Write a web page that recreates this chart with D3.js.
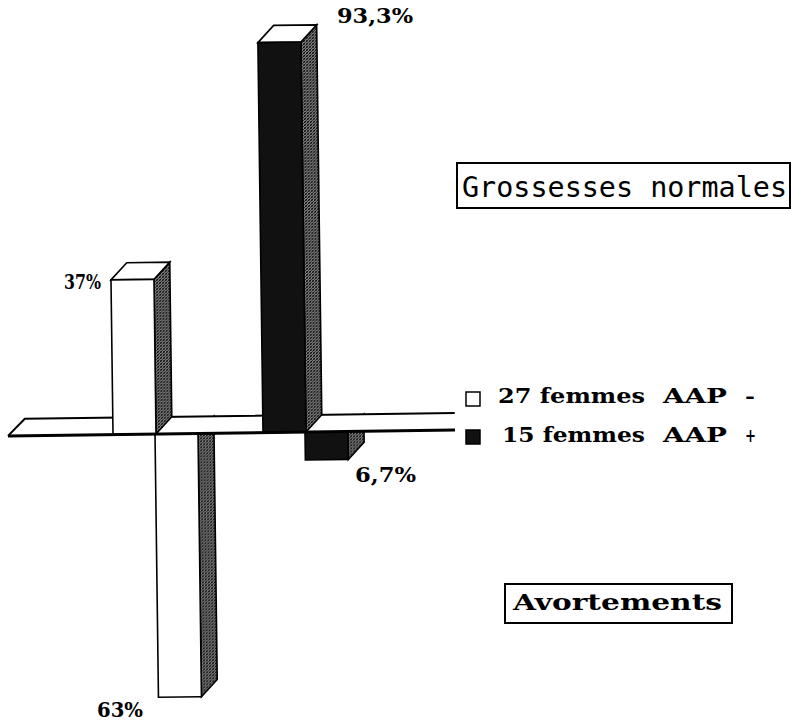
<!DOCTYPE html>
<html><head><meta charset="utf-8">
<script src="https://cdn.jsdelivr.net/npm/d3@7"></script>
<style>html,body{margin:0;padding:0;background:#fff;} svg{display:block}</style>
</head><body>
<script>
// ---- data ----
const series = ["27 femmes AAP -", "15 femmes AAP +"];
const legendParts = [["27 femmes", "AAP", "-"], ["15 femmes", "AAP", "+"]];
const outcomes = ["Grossesses normales", "Avortements"];
const normalValues = [37, 93.3];
const abortionValues = [63, 6.7];
const normalLabels = ["37%", "93,3%"];
const abortionLabels = ["63%", "6,7%"];
const seriesFill = ["#ffffff", "#111111"];

// ---- layout ----
const W = 791, H = 723;
const svg = d3.select("body").append("svg").attr("width", W).attr("height", H);
const defs = svg.append("defs");
const pat = defs.append("pattern").attr("id", "hatch").attr("patternUnits", "userSpaceOnUse")
  .attr("width", 3).attr("height", 3);
pat.append("rect").attr("width", 3).attr("height", 3).attr("fill", "#fff");
pat.append("path").attr("d", "M-1,1 L1,-1 M0,3 L3,0 M2,4 L4,2").attr("stroke", "#000").attr("stroke-width", 1.4);
pat.append("path").attr("d", "M0,0 L3,3").attr("stroke", "#333").attr("stroke-width", 0.8);

const x = d3.scaleBand().domain(series).range([113, 413]).padding(0);
const y = d3.scaleLinear().domain([0, 100]).range([433, 15]);
const bw = 43, dx = 16, dy = -17, downShift = 42;
const base = y(0);

const chart = svg.append("g").attr("transform", `rotate(-0.75, 230, ${base})`);
const line = d3.line();
const strokeW = 1.6;

// down bars (abortions) first
series.forEach((s, i) => {
  const x0 = x(s) + downShift, yb = y(-abortionValues[i]);
  chart.append("path").attr("d", line([[x0 + bw, base], [x0 + bw + dx, base + dy], [x0 + bw + dx, yb + dy], [x0 + bw, yb]]) + "Z")
    .attr("fill", "url(#hatch)").attr("stroke", "#000").attr("stroke-width", strokeW);
  chart.append("rect").attr("x", x0).attr("y", base).attr("width", bw).attr("height", yb - base)
    .attr("fill", seriesFill[i]).attr("stroke", "#000").attr("stroke-width", strokeW);
});

// floor
const fl = 8, fr = 455;
chart.append("path").attr("d", line([[fr, base], [fl, base], [fl - dy, base + dy], [fr, base + dy]]) + "Z")
  .attr("fill", "#fff").attr("stroke", "none");
chart.append("path").attr("d", line([[fl, base], [fl - dy, base + dy], [fr, base + dy]]))
  .attr("fill", "none").attr("stroke", "#000").attr("stroke-width", 2);

// up bars (normal pregnancies)
series.forEach((s, i) => {
  const x0 = x(s), yt = y(normalValues[i]);
  chart.append("path").attr("d", line([[x0 + bw, base], [x0 + bw + dx, base + dy], [x0 + bw + dx, yt + dy], [x0 + bw, yt]]) + "Z")
    .attr("fill", "url(#hatch)").attr("stroke", "#000").attr("stroke-width", strokeW);
  chart.append("path").attr("d", line([[x0, yt], [x0 + dx, yt + dy], [x0 + bw + dx, yt + dy], [x0 + bw, yt]]) + "Z")
    .attr("fill", "#fff").attr("stroke", "#000").attr("stroke-width", strokeW);
  chart.append("rect").attr("x", x0).attr("y", yt).attr("width", bw).attr("height", base - yt)
    .attr("fill", seriesFill[i]).attr("stroke", "#000").attr("stroke-width", strokeW);
});

// front edge of floor
chart.append("line").attr("x1", fl).attr("x2", fr).attr("y1", base).attr("y2", base)
  .attr("stroke", "#000").attr("stroke-width", 3);

// value labels
const lblFont = "'DejaVu Serif', serif";
const upLabelPos = [
  {dx: -12, dy: 11, anchor: "end", size: 20, len: 37},
  {dx: bw + dx + 15, dy: -20, anchor: "start", size: 20, len: 76}
];
const downLabelPos = [
  {dx: -58, dy: 21, size: 21, len: 46},
  {dx: 50, dy: 21, size: 20, len: 61}
];
series.forEach((s, i) => {
  const p = upLabelPos[i];
  svg.append("text").attr("x", x(s) + p.dx).attr("y", y(normalValues[i]) + p.dy)
    .attr("text-anchor", p.anchor).attr("font-family", lblFont).attr("font-weight", "bold")
    .attr("font-size", p.size).attr("textLength", p.len).attr("lengthAdjust", "spacingAndGlyphs")
    .text(normalLabels[i]);
  const q = downLabelPos[i];
  svg.append("text").attr("x", x(s) + downShift + q.dx).attr("y", y(-abortionValues[i]) + q.dy)
    .attr("font-family", lblFont).attr("font-weight", "bold")
    .attr("font-size", q.size).attr("textLength", q.len).attr("lengthAdjust", "spacingAndGlyphs")
    .text(abortionLabels[i]);
});

// legend
const legFont = "'DejaVu Serif', serif";
const legRows = [{y: 403, sq: 392, x: [498, 663, 745], len: [147, 64, 10]},
                 {y: 442, sq: 430, x: [502, 663, 745], len: [143, 64, 11]}];
series.forEach((s, i) => {
  const r = legRows[i];
  svg.append("rect").attr("x", 466).attr("y", r.sq).attr("width", 14).attr("height", 14)
    .attr("fill", seriesFill[i]).attr("stroke", "#000").attr("stroke-width", 1.5);
  legendParts[i].forEach((t, j) => {
    svg.append("text").attr("x", r.x[j]).attr("y", r.y).attr("font-family", legFont)
      .attr("font-weight", "bold").attr("font-size", j === 2 ? 18 : 20)
      .attr("textLength", r.len[j]).attr("lengthAdjust", "spacingAndGlyphs").text(t);
  });
});

// outcome boxes
const boxes = [
  {x: 457, y: 163, w: 333, h: 45, tx: 462, ty: 197, len: 325, font: "'DejaVu Sans Mono', monospace", weight: "normal", size: 28},
  {x: 505, y: 584, w: 227, h: 39, tx: 513, ty: 610, len: 209, font: "'DejaVu Serif', serif", weight: "bold", size: 23}
];
outcomes.forEach((o, i) => {
  const b = boxes[i];
  svg.append("rect").attr("x", b.x).attr("y", b.y).attr("width", b.w).attr("height", b.h)
    .attr("fill", "#fff").attr("stroke", "#000").attr("stroke-width", 2);
  svg.append("text").attr("x", b.tx).attr("y", b.ty).attr("font-family", b.font)
    .attr("font-weight", b.weight).attr("font-size", b.size)
    .attr("textLength", b.len).attr("lengthAdjust", "spacingAndGlyphs").text(o);
});
</script>
</body></html>
